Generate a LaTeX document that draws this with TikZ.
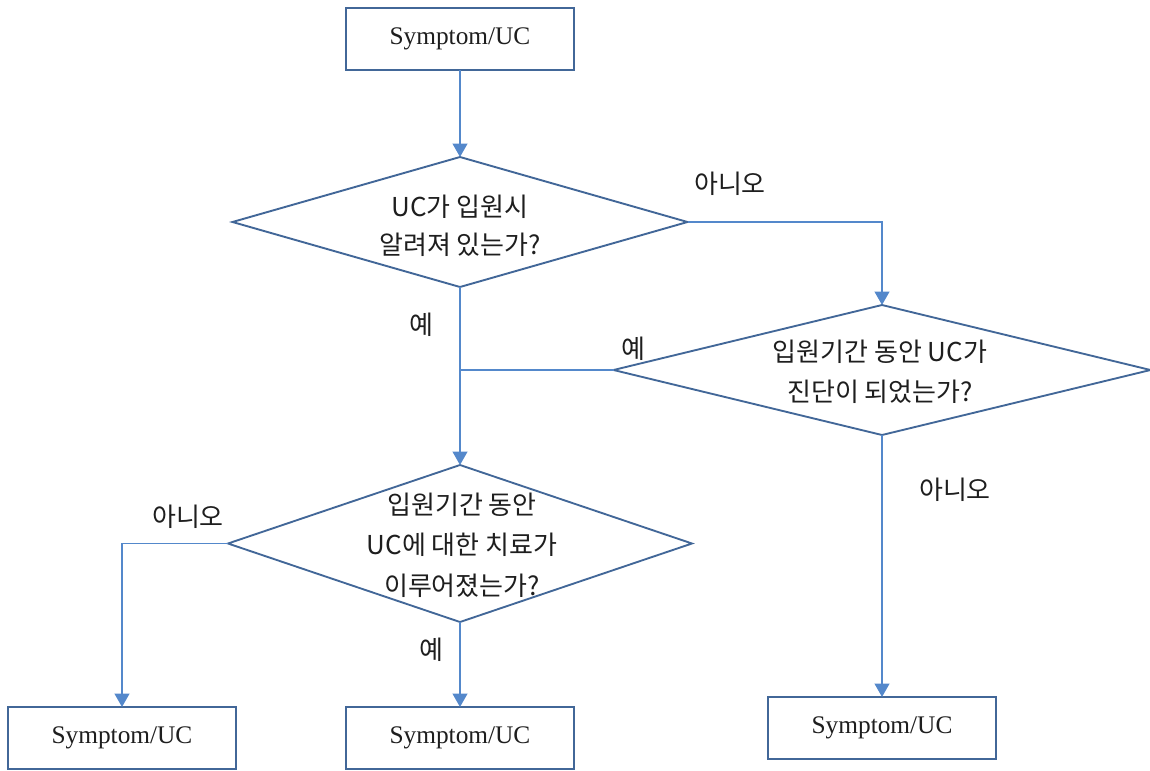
\documentclass[tikz,border=0pt]{standalone}
\usepackage{fontspec}
\setmainfont{Liberation Serif}
\newfontfamily\kr{Noto Sans CJK KR}
\usetikzlibrary{shapes.geometric,arrows.meta}

\definecolor{boxline}{RGB}{66,103,152}
\definecolor{flowline}{RGB}{84,136,203}
\definecolor{txt}{RGB}{30,30,30}

\begin{document}
\begin{tikzpicture}[x=0.75pt,y=-0.75pt,
  box/.style={draw=boxline, line width=1.5pt, fill=white,
    minimum width=228*0.75pt, minimum height=62*0.75pt,
    inner sep=0pt, outer sep=0pt, text=txt, font=\fontsize{19}{22}\selectfont},
  decision/.style={diamond, draw=boxline, line width=1.4pt,
    inner sep=0pt, outer sep=0pt},
  flow/.style={draw=flowline, line width=1.4pt},
  arr/.style={flow, -{Triangle[length=10pt,width=11pt]}},
  lbl/.style={font=\kr\fontsize{19.5}{22}\selectfont, text=txt, inner sep=0pt},
  qtext/.style={align=center, text=txt, inner sep=0pt}]

\useasboundingbox (0,0) rectangle (1150,771);

% boxes
\node[box] (s0) at (460,39) {Symptom/UC};
\node[box] (s1) at (122,738) {Symptom/UC};
\node[box] (s2) at (460,738) {Symptom/UC};
\node[box] (s3) at (882,728) {Symptom/UC};

% decisions
\node[decision, minimum width=455*0.75pt, minimum height=130*0.75pt] (d1) at (460,222) {};
\node[decision, minimum width=537*0.75pt, minimum height=130*0.75pt] (d2) at (882,370) {};
\node[decision, minimum width=464*0.75pt, minimum height=157*0.75pt] (d3) at (460,543.5) {};

\node[qtext, font=\kr\fontsize{19.5}{28.5}\selectfont] (q1) at (460,226) {UC가 입원시\\알려져 있는가?};
\node[qtext, font=\kr\fontsize{19.5}{30}\selectfont] (q2) at (880,372) {입원기간 동안 UC가\\진단이 되었는가?};
\node[qtext, font=\kr\fontsize{19.5}{30.5}\selectfont] (q3) at (462,545) {입원기간 동안\\UC에 대한 치료가\\이루어졌는가?};

% connectors
\coordinate (j) at (d1.south |- d2.west);
\draw[arr] (s0.south) -- (d1.north);
\draw[arr] (d1.east) -| (d2.north);
\draw[arr] (d1.south) -- (d3.north);
\draw[flow] (d2.west) -- (j);
\draw[arr] (d3.west) -| (s1.north);
\draw[arr] (d3.south) -- (s2.north);
\draw[arr] (d2.south) -- (s3.north);

% branch labels
\node[lbl] (n1) at (730,184) {아니오};
\node[lbl] (y1) at (421,325) {예};
\node[lbl] (y2) at (633,349) {예};
\node[lbl] (n2) at (188,517) {아니오};
\node[lbl] (n3) at (955,490) {아니오};
\node[lbl] (y3) at (431,650) {예};
\end{tikzpicture}
\end{document}
